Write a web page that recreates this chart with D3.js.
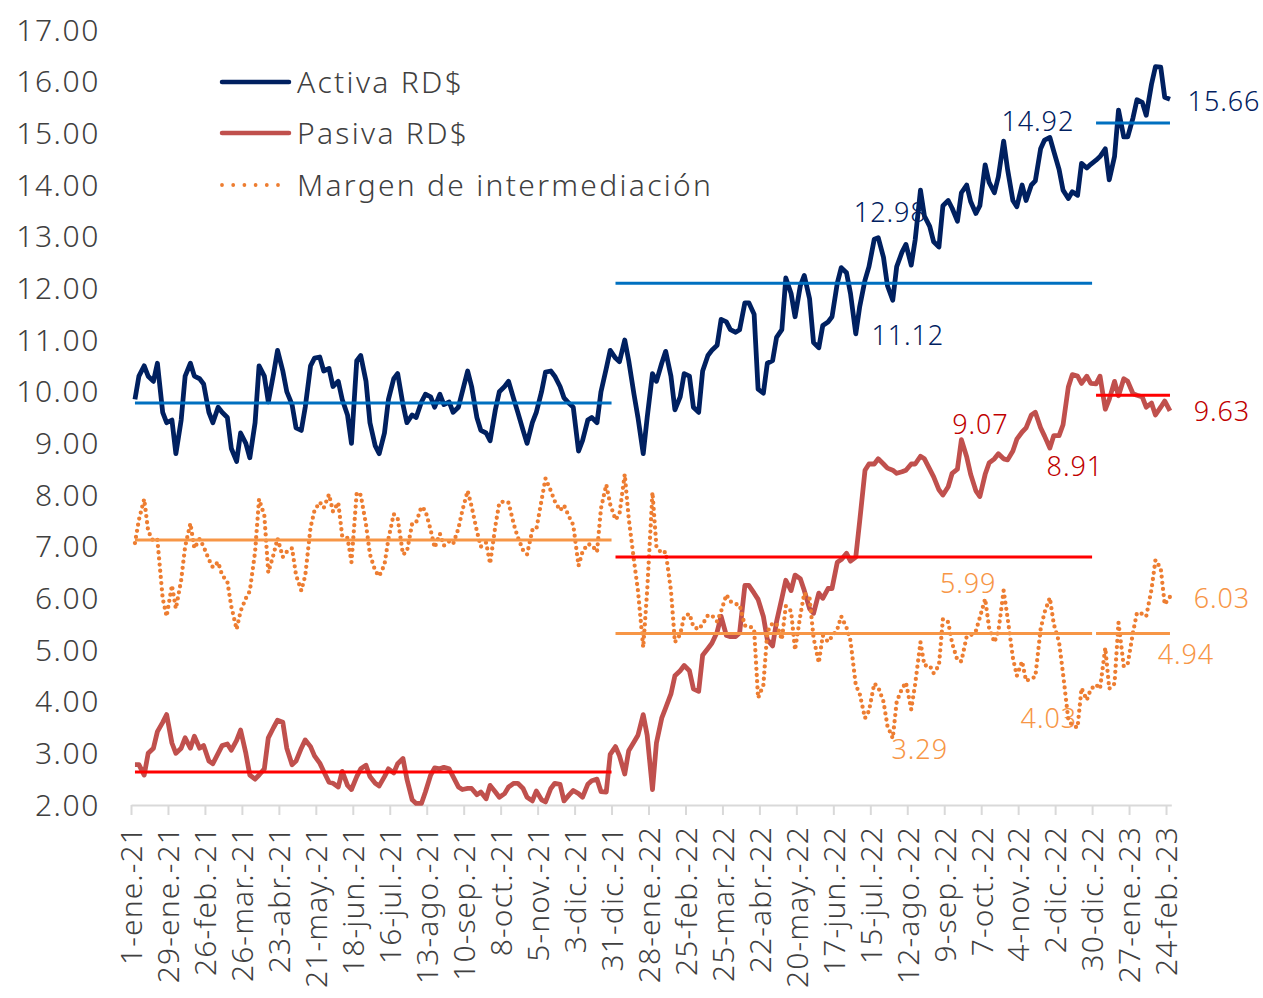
<!DOCTYPE html>
<html lang="es">
<head>
<meta charset="utf-8">
<title>Tasas de interés activa, pasiva y margen de intermediación</title>
<script src="https://cdn.jsdelivr.net/npm/d3@7"></script>
<style>
  html, body { margin: 0; padding: 0; background: #ffffff; }
  svg { display: block; font-family: "Noto Sans", "Open Sans", sans-serif; font-weight: 300; }
</style>
</head>
<body>
<svg id="chart" width="1263" height="998"></svg>
<script>
// Observaciones bisemanales (lunes y jueves) a partir del 4-ene-2021
const fechaInicio = "2021-01-04";

const activa = [
  9.85,10.30, 10.50,10.30, 10.20,10.55, 9.60,9.40, 9.45,8.80,
  9.45,10.30, 10.55,10.30, 10.25,10.15, 9.60,9.40, 9.70,9.60,
  9.50,8.90, 8.65,9.20, 9.00,8.72, 9.40,10.50, 10.30,9.80,
  10.35,10.80, 10.40,10.00, 9.75,9.30, 9.25,9.70, 10.50,10.65,
  10.67,10.40, 10.45,10.10, 10.20,9.85, 9.55,9.00, 10.60,10.70,
  10.20,9.40, 8.95,8.80, 9.20,9.85, 10.25,10.35, 9.75,9.40,
  9.55,9.50, 9.80,9.95, 9.90,9.70, 9.95,9.75, 9.80,9.60,
  9.70,10.00, 10.40,10.10, 9.50,9.25, 9.20,9.05, 9.65,10.00,
  10.10,10.20, 9.85,9.60, 9.25,9.00, 9.40,9.60, 10.00,10.38,
  10.40,10.30, 10.10,9.88, 9.77,9.70, 8.85,9.05, 9.45,9.50,
  9.40,10.00, 10.45,10.80, 10.65,10.58, 11.00,10.60, 9.95,9.50,
  8.80,9.50, 10.35,10.20, 10.55,10.78, 10.30,9.65, 9.90,10.35,
  10.30,9.70, 9.60,10.40, 10.70,10.80, 10.90,11.40, 11.35,11.20,
  11.15,11.20, 11.72,11.72, 11.50,10.05, 9.97,10.55, 10.60,11.05,
  11.20,12.20, 11.90,11.45, 12.05,12.25, 11.80,10.95, 10.85,11.28,
  11.35,11.45, 12.10,12.40, 12.30,11.90, 11.12,11.65, 12.16,12.42,
  12.95,12.98, 12.60,12.05, 11.77,12.42, 12.70,12.85, 12.45,12.94,
  13.90,13.40, 13.20,12.90, 12.80,13.60, 13.70,13.55, 13.30,13.85,
  14.00,13.68, 13.45,13.60, 14.39,14.05, 13.85,14.16, 14.85,14.30,
  13.70,13.58, 14.00,13.70, 14.00,14.08, 14.70,14.87, 14.92,14.65,
  14.30,13.90, 13.74,13.87, 13.80,14.42, 14.33,14.40, 14.48,14.55,
  14.70,14.10, 14.55,15.45, 14.93,14.93, 15.30,15.65, 15.60,15.35,
  15.95,16.29, 16.28,15.70, 15.66
];

const pasiva = [
  2.78,2.78, 2.58,3.00, 3.10,3.42, 3.60,3.75, 3.20,3.00,
  3.10,3.30, 3.10,3.33, 3.10,3.15, 2.85,2.80, 3.00,3.15,
  3.18,3.06, 3.25,3.45, 3.00,2.58, 2.50,2.58, 2.70,3.30,
  3.50,3.64, 3.60,3.10, 2.78,2.85, 3.10,3.26, 3.13,2.95,
  2.81,2.65, 2.44,2.42, 2.35,2.65, 2.38,2.30, 2.55,2.70,
  2.77,2.55, 2.42,2.37, 2.55,2.70, 2.62,2.80, 2.90,2.50,
  2.10,2.03, 2.03,2.25, 2.58,2.72, 2.70,2.73, 2.70,2.55,
  2.35,2.30, 2.32,2.32, 2.20,2.25, 2.12,2.38, 2.25,2.15,
  2.22,2.35, 2.42,2.42, 2.32,2.15, 2.08,2.27, 2.10,2.06,
  2.32,2.42, 2.40,2.08, 2.20,2.28, 2.22,2.15, 2.40,2.47,
  2.50,2.26, 2.25,2.98, 3.13,2.95, 2.60,3.05, 3.22,3.35,
  3.75,3.35, 2.30,3.20, 3.68,3.88, 4.15,4.50, 4.60,4.70,
  4.60,4.25, 4.20,4.90, 5.03,5.13, 5.35,5.65, 5.28,5.26,
  5.26,5.33, 6.25,6.25, 6.10,5.98, 5.65,5.20, 5.08,5.55,
  6.00,6.35, 6.15,6.45, 6.38,6.15, 5.80,5.71, 6.10,6.00,
  6.19,6.19, 6.70,6.75, 6.87,6.72, 6.80,7.50, 8.48,8.60,
  8.60,8.70, 8.60,8.52, 8.48,8.42, 8.45,8.48, 8.60,8.60,
  8.75,8.70, 8.50,8.35, 8.10,8.00, 8.16,8.42, 8.50,9.07,
  8.74,8.40, 8.08,7.97, 8.40,8.62, 8.70,8.80, 8.70,8.68,
  8.85,9.08, 9.22,9.30, 9.55,9.60, 9.30,9.14, 8.91,9.15,
  9.15,9.36, 10.09,10.33, 10.30,10.16, 10.30,10.16, 10.15,10.30,
  9.66,9.85, 10.20,9.92, 10.25,10.20, 9.96,9.93, 9.90,9.70,
  9.78,9.55, 9.70,9.82, 9.63
];

const margen = [
  7.07,7.52, 7.92,7.30, 7.10,7.13, 6.00,5.65, 6.25,5.80,
  6.35,7.00, 7.45,6.97, 7.15,7.00, 6.75,6.60, 6.70,6.45,
  6.32,5.84, 5.40,5.75, 6.00,6.14, 6.90,7.92, 7.60,6.50,
  6.85,7.16, 6.80,6.90, 6.97,6.45, 6.15,6.44, 7.37,7.70,
  7.86,7.75, 8.01,7.68, 7.85,7.20, 7.17,6.70, 8.05,8.00,
  7.43,6.85, 6.53,6.43, 6.65,7.15, 7.63,7.55, 6.85,6.90,
  7.45,7.47, 7.77,7.70, 7.32,6.98, 7.25,7.02, 7.10,7.05,
  7.35,7.70, 8.08,7.78, 7.30,7.00, 7.08,6.67, 7.40,7.85,
  7.88,7.85, 7.43,7.18, 6.93,6.85, 7.32,7.33, 7.90,8.32,
  8.08,7.88, 7.70,7.80, 7.57,7.42, 6.63,6.90, 7.05,7.03,
  6.90,7.74, 8.20,7.82, 7.52,7.63, 8.40,7.55, 6.73,6.15,
  5.05,6.15, 8.05,7.00, 6.87,6.90, 6.15,5.15, 5.30,5.65,
  5.70,5.45, 5.40,5.50, 5.67,5.67, 5.55,5.75, 6.07,5.94,
  5.89,5.87, 5.47,5.47, 5.40,4.07, 4.32,5.35, 5.52,5.50,
  5.20,5.85, 5.75,5.00, 5.67,6.10, 6.00,5.24, 4.75,5.28,
  5.16,5.26, 5.40,5.65, 5.43,5.18, 4.32,4.15, 3.68,3.82,
  4.35,4.28, 4.00,3.53, 3.29,4.00, 4.25,4.37, 3.85,4.34,
  5.15,4.70, 4.70,4.55, 4.70,5.60, 5.54,5.13, 4.80,4.78,
  5.26,5.28, 5.37,5.63, 5.99,5.43, 5.15,5.36, 6.15,5.62,
  4.85,4.50, 4.78,4.40, 4.45,4.48, 5.40,5.73, 6.01,5.50,
  5.15,4.54, 3.65,3.54, 3.50,4.26, 4.03,4.24, 4.33,4.25,
  5.04,4.25, 4.35,5.53, 4.68,4.73, 5.34,5.72, 5.70,5.65,
  6.17,6.74, 6.58,5.88, 6.03
];

// Promedios anuales
const periodos = [
  ["2021-01-04", "2021-12-31"],
  ["2022-01-03", "2022-12-30"],
  ["2023-01-02", "2023-02-27"]
];
const promActiva = [9.78, 12.10, 15.20];
const promPasiva = [2.64, 6.80, 9.93];
const promMargen = [7.13, 5.32, 5.32];

// Eje de fechas: una marca cada cuatro semanas
const etiquetasEje = [
  "1-ene.-21", "29-ene.-21", "26-feb.-21", "26-mar.-21", "23-abr.-21",
  "21-may.-21", "18-jun.-21", "16-jul.-21", "13-ago.-21", "10-sep.-21",
  "8-oct.-21", "5-nov.-21", "3-dic.-21", "31-dic.-21", "28-ene.-22",
  "25-feb.-22", "25-mar.-22", "22-abr.-22", "20-may.-22", "17-jun.-22",
  "15-jul.-22", "12-ago.-22", "9-sep.-22", "7-oct.-22", "4-nov.-22",
  "2-dic.-22", "30-dic.-22", "27-ene.-23", "24-feb.-23"
];
const valoresEjeY = [2, 3, 4, 5, 6, 7, 8, 9, 10, 11, 12, 13, 14, 15, 16, 17];

const nombresSeries = ["Activa RD$", "Pasiva RD$", "Margen de intermediación"];

// Etiquetas de valor sobre puntos de las series
const anotaciones = [
  { serie: "activa", i: 161, dx: 12,  dy: -16 },
  { serie: "activa", i: 156, dx: 52,  dy: 11 },
  { serie: "activa", i: 198, dx: -12, dy: -6 },
  { serie: "activa", i: 224, dx: 54,  dy: 12 },
  { serie: "pasiva", i: 179, dx: 19,  dy: -6 },
  { serie: "pasiva", i: 198, dx: 25,  dy: 28 },
  { serie: "pasiva", i: 224, dx: 52,  dy: 10 },
  { serie: "margen", i: 184, dx: -17, dy: -6 },
  { serie: "margen", i: 164, dx: 27,  dy: 21 },
  { serie: "margen", i: 206, dx: -38, dy: 28 },
  { serie: "margen", i: 224, dx: 52,  dy: 11 }
];
const etiquetaPromMargen2023 = "4.94";

// ---- estilos ----
const colores = {
  activa: "#002060", pasiva: "#C0504D", margen: "#ED7D31",
  promActiva: "#0070C0", promPasiva: "#FF0000", promMargen: "#F79646",
  txtActiva: "#002060", txtPasiva: "#C00000", txtMargen: "#F79646",
  texto: "#404040", eje: "#D9D9D9"
};

const parse = d3.timeParse("%Y-%m-%d");
const base = parse(fechaInicio);
const fechas = activa.map((_, i) => d3.timeDay.offset(base, 7 * Math.floor(i / 2) + (i % 2) * 3));

const svg = d3.select("#chart");
svg.append("rect").attr("width", 1263).attr("height", 998).attr("fill", "#fff");

const x = d3.scaleTime()
  .domain([new Date(2021, 0, 1), new Date(2023, 1, 28)])
  .range([131, 1171.3]);
const y = d3.scaleLinear().domain([2, 17]).range([805, 30]);

// Eje Y: solo etiquetas
svg.append("g").selectAll("text")
  .data(valoresEjeY)
  .join("text")
  .attr("x", 100)
  .attr("y", d => y(d))
  .attr("dy", "0.35em")
  .attr("text-anchor", "end")
  .attr("font-size", 30)
  .attr("letter-spacing", 1.6)
  .attr("fill", colores.texto)
  .text(d => d3.format(".2f")(d));

// Eje X
const fechasEje = etiquetasEje.map((_, i) => d3.timeDay.offset(new Date(2021, 0, 1), 28 * i));
const ejeX = svg.append("g")
  .attr("transform", "translate(0,805)")
  .call(d3.axisBottom(x)
    .tickValues(fechasEje)
    .tickSize(10)
    .tickSizeOuter(0)
    .tickFormat((d, i) => etiquetasEje[i]));
ejeX.select(".domain").attr("stroke", colores.eje).attr("stroke-width", 2);
ejeX.selectAll(".tick line").attr("stroke", colores.eje).attr("stroke-width", 2);
ejeX.selectAll(".tick text")
  .attr("transform", "rotate(-90)")
  .attr("x", -21)
  .attr("y", 0)
  .attr("dy", "0.36em")
  .attr("text-anchor", "end")
  .attr("font-size", 30)
  .attr("letter-spacing", 1.1)
  .attr("font-family", "\"Noto Sans\", sans-serif")
  .attr("font-weight", 300)
  .attr("fill", colores.texto);

// Leyenda
const leyenda = svg.append("g");
const claves = ["activa", "pasiva", "margen"];
const yLeyenda = [82, 133, 185];
claves.forEach((c, k) => {
  const l = leyenda.append("line")
    .attr("x1", 222).attr("x2", 289)
    .attr("y1", yLeyenda[k]).attr("y2", yLeyenda[k])
    .attr("stroke", colores[c])
    .attr("stroke-linecap", "round");
  if (c === "margen") {
    l.attr("stroke-width", 3.8).attr("stroke-dasharray", "0 11.2");
  } else {
    l.attr("stroke-width", 4.5);
  }
  leyenda.append("text")
    .attr("x", 297).attr("y", yLeyenda[k]).attr("dy", "0.35em")
    .attr("font-size", 30)
    .attr("letter-spacing", 2.3)
    .attr("fill", colores.texto)
    .text(nombresSeries[k]);
});

// Etiquetas de valor
const series = { activa, pasiva, margen };
const colorTexto = { activa: colores.txtActiva, pasiva: colores.txtPasiva, margen: colores.txtMargen };
svg.append("g").selectAll("text")
  .data(anotaciones)
  .join("text")
  .attr("x", d => x(fechas[d.i]) + d.dx)
  .attr("y", d => y(series[d.serie][d.i]) + d.dy)
  .attr("text-anchor", "middle")
  .attr("font-size", 27)
  .attr("letter-spacing", 0.9)
  .attr("fill", d => colorTexto[d.serie])
  .text(d => d3.format(".2f")(series[d.serie][d.i]));

svg.append("text")
  .attr("x", x(parse(periodos[2][1])) + 16)
  .attr("y", y(promMargen[2]) + 31)
  .attr("text-anchor", "middle")
  .attr("font-size", 27)
  .attr("letter-spacing", 0.9)
  .attr("fill", colores.txtMargen)
  .text(etiquetaPromMargen2023);

// Series
const linea = d3.line()
  .x((d, i) => x(fechas[i]))
  .y(d => y(d))
  .curve(d3.curveLinear);

const gSeries = svg.append("g").attr("fill", "none").attr("stroke-linejoin", "round");
gSeries.append("path").attr("d", linea(activa))
  .attr("stroke", colores.activa).attr("stroke-width", 4.8);
gSeries.append("path").attr("d", linea(pasiva))
  .attr("stroke", colores.pasiva).attr("stroke-width", 4.8);
gSeries.append("path").attr("d", linea(margen))
  .attr("stroke", colores.margen).attr("stroke-width", 4.3)
  .attr("stroke-linecap", "round")
  .attr("stroke-dasharray", "0 6.2");

// Promedios por año
const gProm = svg.append("g").attr("stroke-width", 3);
[[promActiva, colores.promActiva], [promPasiva, colores.promPasiva], [promMargen, colores.promMargen]]
  .forEach(([vals, color]) => {
    gProm.selectAll(null)
      .data(vals.map((v, j) => ({ v, p: periodos[j] })))
      .join("line")
      .attr("x1", d => x(parse(d.p[0])))
      .attr("x2", d => x(parse(d.p[1])))
      .attr("y1", d => y(d.v))
      .attr("y2", d => y(d.v))
      .attr("stroke", color);
  });
</script>
</body>
</html>
